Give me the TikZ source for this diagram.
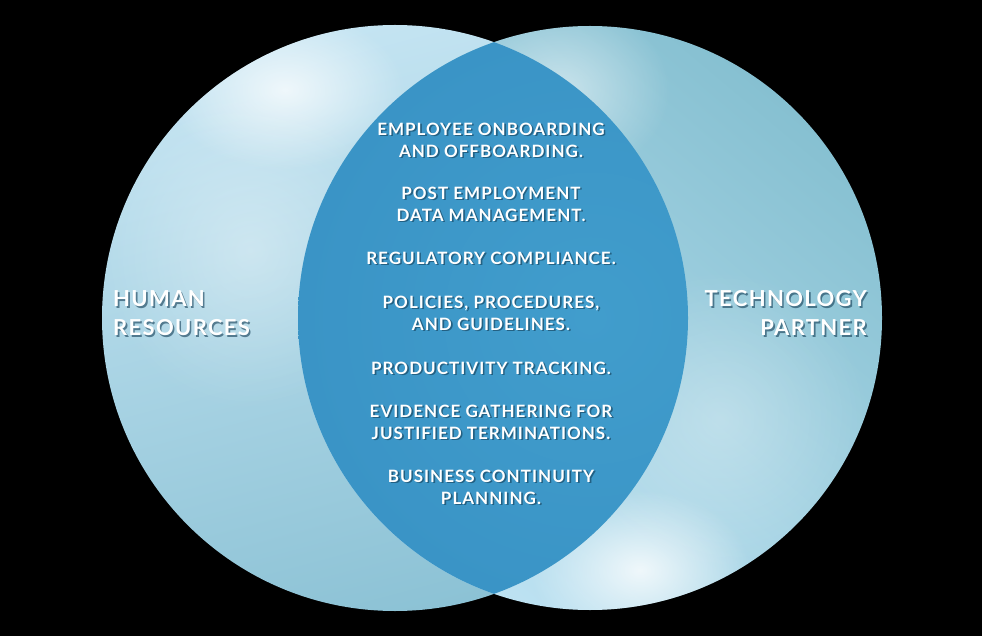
\documentclass[tikz,border=0pt]{standalone}
\usepackage{fontspec}
\setmainfont{Lato}[LetterSpace=6]
\usetikzlibrary{fadings}
\definecolor{lensblue}{HTML}{419DCC}
\definecolor{lensedge}{HTML}{3A94C6}
\definecolor{leftlight}{HTML}{C4E4F2}
\definecolor{leftdark}{HTML}{8CC2D5}
\definecolor{rightdark}{HTML}{86C0D1}
\definecolor{rightlight}{HTML}{BFE3F3}
\definecolor{shadowc}{HTML}{123C55}
\tikzfading[name=glow, inner color=transparent!0, outer color=transparent!100]
\tikzset{
  ctext/.style={text=white, font=\bfseries\fontsize{17}{22}\selectfont, align=center, inner sep=0pt},
  sidetext/.style={text=white, font=\bfseries\fontsize{22}{29}\selectfont, inner sep=0pt},
  shadowed/.style={text=shadowc, text opacity=0.6}
}
\newcommand\shtxt[4]{%
  \node[#1, shadowed] (#2s) at ([shift={(1.6,1.8)}]#3) {#4};
  \node[#1] (#2) at (#3) {#4};}
\begin{document}
\begin{tikzpicture}[x=1pt,y=-1pt]
\fill[black] (0,0) rectangle (982,636);
\useasboundingbox (0,0) rectangle (982,636);
% left circle
\shade[top color=leftlight, bottom color=leftdark, shading angle=15] (395,318) circle[radius=293];
\begin{scope}
  \clip (395,318) circle[radius=293];
  \fill[white, opacity=0.75, path fading=glow] (285,90) ellipse[x radius=120, y radius=80];
  \fill[white, opacity=0.35, path fading=glow] (250,250) ellipse[x radius=150, y radius=160];
\end{scope}
% right circle
\shade[top color=rightdark, bottom color=rightlight, shading angle=-40] (590,318) circle[radius=292];
\begin{scope}
  \clip (590,318) circle[radius=292];
  \fill[white, opacity=0.5, path fading=glow] (560,90) ellipse[x radius=110, y radius=90];
  \fill[white, opacity=0.8, path fading=glow] (640,570) ellipse[x radius=110, y radius=80];
  \fill[white, opacity=0.3, path fading=glow] (720,420) ellipse[x radius=150, y radius=150];
\end{scope}
% lens
\begin{scope}
  \clip (395,318) circle[radius=293];
  \shade[inner color=lensblue, outer color=lensedge] (590,318) circle[radius=292];
\end{scope}
% center texts
\shtxt{ctext}{t1}{491,140}{EMPLOYEE ONBOARDING\\AND OFFBOARDING.}
\shtxt{ctext}{t2}{491,204}{POST EMPLOYMENT\\DATA MANAGEMENT.}
\shtxt{ctext}{t3}{491,258}{REGULATORY COMPLIANCE.}
\shtxt{ctext}{t4}{491,313}{POLICIES, PROCEDURES,\\AND GUIDELINES.}
\shtxt{ctext}{t5}{491,368}{PRODUCTIVITY TRACKING.}
\shtxt{ctext}{t6}{491,422}{EVIDENCE GATHERING FOR\\JUSTIFIED TERMINATIONS.}
\shtxt{ctext}{t7}{491,487}{BUSINESS CONTINUITY\\PLANNING.}
% side labels
\shtxt{sidetext, anchor=west, align=left}{hr}{113,313}{HUMAN\\RESOURCES}
\shtxt{sidetext, anchor=east, align=right}{tp}{867,313}{TECHNOLOGY\\PARTNER}
\end{tikzpicture}
\end{document}
